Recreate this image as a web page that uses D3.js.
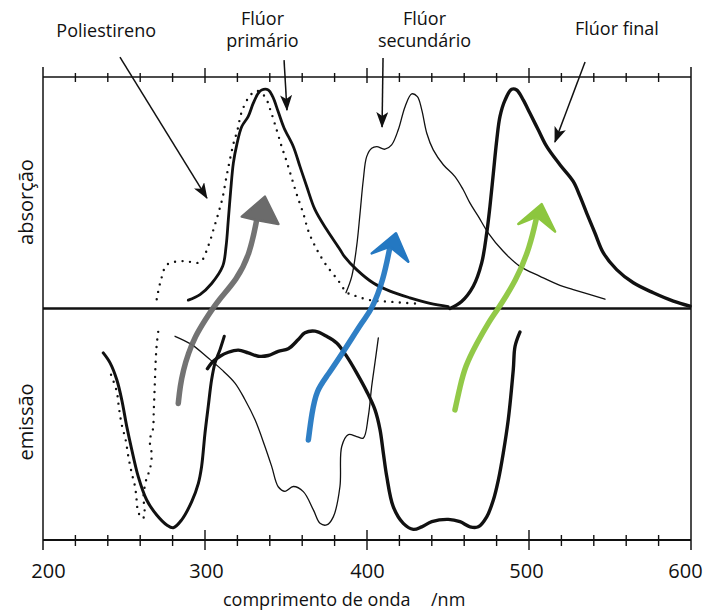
<!DOCTYPE html>
<meta charset="utf-8">
<style>
body { margin: 0; background: #fff; }
text { font-family: "Open Sans", sans-serif; fill: #111; }
.curve { fill: none; stroke: #111; stroke-linejoin: round; stroke-linecap: round; }
.frame { stroke: #111; }
</style>
<svg width="706" height="614"></svg>
<script src="https://cdn.jsdelivr.net/npm/d3@7"></script>
<script>

// espectros: [comprimento de onda /nm, intensidade relativa]
var poliAbs = [[270.2,0.04],[272.7,0.12],[276.7,0.19],[286.6,0.205],[296.9,0.2],[302,0.27],[305.6,0.35],
  [308.6,0.42],[310.9,0.48],[313,0.56],[315,0.63],[317.5,0.71],[320,0.77],[322.7,0.85],[327.8,0.92],
  [332,0.94],[337,0.915],[340.7,0.85],[344.3,0.77],[347.3,0.7],[350.4,0.635],[353.9,0.555],[357,0.485],
  [360.7,0.41],[363.8,0.335],[367.9,0.27],[374.1,0.195],[382.3,0.12],[387.5,0.07],[392.6,0.055],
  [402.9,0.035],[413,0.03],[422.2,0.025],[432.7,0.02]];

var primAbs = [[289.7,0.036],[296.9,0.06],[304.1,0.108],[310.9,0.182],[313,0.268],[314.4,0.384],
  [315.9,0.513],[317.5,0.628],[319.6,0.707],[322.7,0.786],[326.7,0.83],[329.8,0.887],[332.9,0.93],
  [335,0.944],[339.1,0.944],[341.8,0.915],[345.2,0.85],[348.8,0.78],[354.5,0.7],[358.6,0.614],
  [362.8,0.527],[367.9,0.427],[375.1,0.341],[383.3,0.255],[386,0.225],[393.6,0.168],[403.9,0.11],
  [414.2,0.075],[426.5,0.046],[438.9,0.022],[450.2,0.008]];

var secAbs = [[387,0.068],[390.6,0.139],[393.6,0.268],[395.7,0.411],[397.7,0.555],[399.8,0.656],
  [402.9,0.692],[406,0.699],[411.1,0.688],[415.2,0.707],[419.3,0.772],[423.5,0.872],[427.6,0.927],
  [431.1,0.915],[433.8,0.858],[436.9,0.757],[440.9,0.685],[447.1,0.621],[454.3,0.57],[459.4,0.513],
  [463.6,0.455],[468.7,0.398],[474.9,0.326],[484.1,0.247],[494.4,0.182],[506.8,0.139],[519.1,0.1],
  [527.3,0.082],[546.9,0.04]];

var finAbs = [[451.2,0],[458.4,0.03],[465.6,0.096],[470.8,0.197],[473.9,0.326],[475.9,0.441],[478,0.585],
  [480.1,0.728],[482.1,0.83],[485.2,0.9],[489.3,0.947],[492.4,0.944],[496.5,0.9],[500.6,0.843],
  [505.7,0.772],[510.9,0.7],[519.1,0.621],[527.3,0.549],[531.5,0.484],[535.6,0.412],[540.7,0.326],
  [545.9,0.24],[554.1,0.168],[564.4,0.111],[576.7,0.068],[589.1,0.032],[599.4,0.01]];

var poliEm = [[242,0.286],[245.5,0.358],[246.9,0.43],[248.6,0.502],[251,0.567],[252.7,0.64],[254.8,0.712],
  [256.8,0.769],[257.8,0.827],[258.5,0.87],[260.9,0.907],[262.5,0.899],[262.1,0.805],[264,0.732],
  [265.9,0.697],[267.1,0.632],[265.9,0.567],[267.8,0.524],[268.4,0.437],[269,0.329],[269.6,0.221],
  [270.2,0.156],[271.3,0.091]];

var primEm = [[237.2,0.192],[241.4,0.235],[245.5,0.307],[248.6,0.394],[251.7,0.51],[254.8,0.61],
  [258.8,0.726],[264,0.827],[270.2,0.892],[276.4,0.935],[280.4,0.947],[285.6,0.913],[291.8,0.834],
  [295.9,0.755],[297.9,0.683],[300,0.538],[302,0.423],[304.1,0.307],[306.2,0.235],[309.3,0.177],
  [311.9,0.12]];

var secEm = [[281.5,0.12],[291.8,0.156],[302,0.214],[310.3,0.264],[318.5,0.322],[324.7,0.394],
  [330.9,0.481],[337,0.596],[341.2,0.683],[345.2,0.77],[349.4,0.79],[354.5,0.769],[360.7,0.791],
  [366.9,0.87],[371,0.928],[375.1,0.935],[379.2,0.9],[383.3,0.769],[384.4,0.596],[388.5,0.545],
  [393.6,0.553],[397.7,0.56],[400.8,0.466],[402.9,0.336],[404.9,0.235],[407,0.127]];

var finEm = [[301.5,0.26],[305.1,0.228],[309.3,0.206],[314.4,0.189],[320.6,0.18],[326.7,0.192],
  [332.9,0.206],[339.1,0.203],[345.2,0.185],[351.4,0.174],[357.6,0.134],[361.7,0.105],[367.9,0.098],
  [375.1,0.12],[381.3,0.149],[387.5,0.207],[393.6,0.278],[399.8,0.358],[404.9,0.437],[408,0.522],
  [410.1,0.625],[412.2,0.726],[416.2,0.856],[422.4,0.928],[428.6,0.954],[433.8,0.943],[440,0.921],
  [450.2,0.911],[457.4,0.921],[463.6,0.943],[468.7,0.943],[473.9,0.9],[478,0.827],[481.1,0.74],
  [484.1,0.625],[487.2,0.48],[490.3,0.264],[491.4,0.163],[494.4,0.102]];

// setas coloridas (emissão -> absorção), eixo vertical com sinal: absorção > 0, emissão < 0
var setaCinza = [[283.5,-0.41],[284.6,-0.338],[286.6,-0.266],[289.7,-0.194],[293.8,-0.122],[300,-0.05],
  [308.2,0.037],[319.6,0.123],[327.8,0.238],[331.9,0.382]];
var pontaCinza = [[322.7,0.397],[337,0.483],[345.3,0.365],[331.9,0.382]];
var setaAzul = [[363.8,-0.568],[365.9,-0.453],[368.9,-0.352],[375.1,-0.295],[387.5,-0.165],[397.7,-0.05],
  [402.9,-0.006],[410.1,0.123],[414.2,0.267]];
var pontaAzul = [[402.9,0.238],[417.9,0.325],[425.5,0.202],[414.2,0.267]];
var setaVerde = [[454.3,-0.438],[457.4,-0.338],[460.5,-0.251],[467.7,-0.15],[475.9,-0.05],[479,-0.021],
  [492.4,0.123],[500.6,0.267],[504.8,0.397]];
var pontaVerde = [[493.4,0.365],[507.8,0.451],[516.1,0.332],[504.8,0.397]];

// legendas e setas pretas
var rotulos = [
  {linhas: ["Poliestireno"], nm: 239, v: [1.174]},
  {linhas: ["Flúor", "primário"], nm: 335.5, v: [1.225, 1.131]},
  {linhas: ["Flúor", "secundário"], nm: 435.5, v: [1.225, 1.131]},
  {linhas: ["Flúor final"], nm: 554.3, v: [1.181]}
];
var setasPretas = [
  [[247.5,1.086],[301.2,0.477]],
  [[348.8,1.073],[350.6,0.857]],
  [[409.9,1.082],[409.3,0.784]],
  [[534.6,1.065],[516.0,0.719]]
];

var ticksMenores = d3.range(220, 600, 20).filter(function(d) { return d % 100 !== 0; });
var ticksMaiores = [300, 400, 500];
var rotulosX = [200, 300, 400, 500, 600];
var desvioRotulosX = {200: 5, 300: 1, 400: 0, 500: -3, 600: -6};

var svg = d3.select("svg");

var x = d3.scaleLinear().domain([200, 600]).range([43, 691]);
var y = d3.scaleLinear().domain([-1, 1]).range([540, 77]);

var line = d3.line()
    .x(function(d) { return x(d[0]); })
    .y(function(d) { return y(d[1]); })
    .curve(d3.curveCatmullRom.alpha(0.5));

function neg(arr) { return arr.map(function(d) { return [d[0], -d[1]]; }); }

// moldura
svg.append("line").attr("class", "frame")
    .attr("x1", x(200)).attr("x2", x(600)).attr("y1", y(1)).attr("y2", y(1))
    .attr("stroke-width", 1.6);
svg.append("line").attr("class", "frame")
    .attr("x1", x(200)).attr("x2", x(600)).attr("y1", y(-1)).attr("y2", y(-1))
    .attr("stroke-width", 1.8);
svg.append("line").attr("class", "frame")
    .attr("x1", x(200)).attr("x2", x(600)).attr("y1", y(0)).attr("y2", y(0))
    .attr("stroke-width", 2.6);
[200, 600].forEach(function(v) {
  svg.append("line").attr("class", "frame")
      .attr("x1", x(v)).attr("x2", x(v)).attr("y1", y(1) - 10).attr("y2", y(-1) + 10)
      .attr("stroke-width", 1.5);
});

// marcas
[[y(1), ticksMenores, 4, 5], [y(1), ticksMaiores, 9, 6], [y(-1), ticksMenores, 5, 6], [y(-1), ticksMaiores, 10, 10]]
  .forEach(function(t) {
    svg.append("g").selectAll("line")
      .data(t[1]).enter().append("line")
        .attr("class", "frame")
        .attr("x1", function(d) { return x(d); }).attr("x2", function(d) { return x(d); })
        .attr("y1", t[0] - t[2]).attr("y2", t[0] + t[3])
        .attr("stroke-width", 1.4);
  });

var eixo = svg.append("g")
    .attr("transform", "translate(0," + y(-1) + ")")
    .call(d3.axisBottom(x).tickValues(rotulosX).tickSize(0).tickPadding(24).tickFormat(d3.format("d")));
eixo.select(".domain").remove();
eixo.selectAll("text")
    .attr("dx", function(d) { return desvioRotulosX[d]; })
    .style("font-family", "'Open Sans', sans-serif").style("font-size", "20px").attr("fill", "#111");

svg.append("text")
    .attr("x", 223).attr("y", 606)
    .style("font-size", "18px")
    .text("comprimento de onda")
  .append("tspan")
    .attr("x", 431)
    .text("/nm");

svg.append("text")
    .attr("transform", "translate(33," + y(0.46) + ") rotate(-90)")
    .attr("text-anchor", "middle")
    .style("font-size", "20px")
    .text("absorção");
svg.append("text")
    .attr("transform", "translate(33," + y(-0.49) + ") rotate(-90)")
    .attr("text-anchor", "middle")
    .style("font-size", "20px")
    .text("emissão");

// curvas
function curva(data, w, dotted) {
  var p = svg.append("path").datum(data).attr("class", "curve")
      .attr("d", line).attr("stroke-width", w);
  if (dotted) p.attr("stroke-dasharray", "0,7.5").attr("stroke-width", 2.4);
  return p;
}
curva(poliAbs, 2, true);
curva(primAbs, 2.8);
curva(secAbs, 1.3);
curva(finAbs, 3.4);
curva(neg(poliEm), 2, true);
curva(neg(primEm), 3);
curva(neg(secEm), 1.3);
curva(neg(finEm), 3.4);

// setas coloridas
var reta = d3.line().x(function(d) { return x(d[0]); }).y(function(d) { return y(d[1]); });
var suave = d3.line().x(function(d) { return x(d[0]); }).y(function(d) { return y(d[1]); }).curve(d3.curveBasis);
[[setaCinza, pontaCinza, "#6b6b6b"], [setaAzul, pontaAzul, "#2478c2"], [setaVerde, pontaVerde, "#8cc63e"]]
  .forEach(function(s) {
    svg.append("path").datum(s[0])
        .attr("d", suave)
        .attr("fill", "none").attr("stroke", s[2])
        .attr("stroke-width", 5.5).attr("stroke-linecap", "round").attr("opacity", 0.95);
    svg.append("path").datum(s[1])
        .attr("d", function(d) { return reta(d) + "Z"; })
        .attr("fill", s[2]).attr("stroke", s[2]).attr("stroke-width", 2.5)
        .attr("stroke-linejoin", "round");
  });

// setas pretas
svg.append("defs").append("marker")
    .attr("id", "ponta")
    .attr("markerUnits", "userSpaceOnUse")
    .attr("viewBox", "0 0 16 12")
    .attr("refX", 15).attr("refY", 6)
    .attr("markerWidth", 16).attr("markerHeight", 12)
    .attr("orient", "auto")
  .append("path")
    .attr("d", "M0,0 L16,6 L0,12 L4,6 Z")
    .attr("fill", "#111");

svg.append("g").selectAll("path")
  .data(setasPretas).enter().append("path")
    .attr("d", reta)
    .attr("fill", "none").attr("stroke", "#111").attr("stroke-width", 1.5)
    .attr("marker-end", "url(#ponta)");

// rótulos
rotulos.forEach(function(r) {
  r.linhas.forEach(function(t, i) {
    svg.append("text")
        .attr("x", x(r.nm)).attr("y", y(r.v[i]))
        .attr("text-anchor", "middle")
        .style("font-size", "18px")
        .text(t);
  });
});

</script>
